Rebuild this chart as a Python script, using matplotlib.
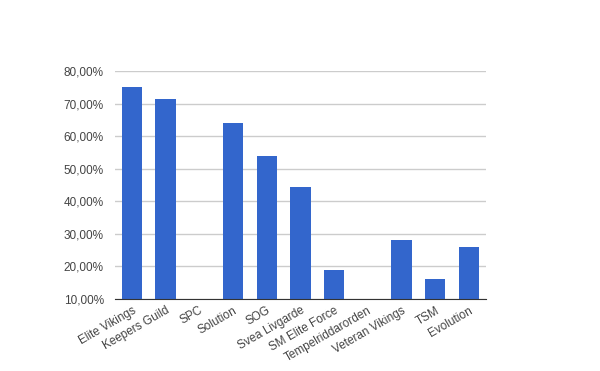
import numpy as np
import matplotlib.pyplot as plt
from matplotlib.ticker import FuncFormatter

plt.rcParams['font.family'] = ['Liberation Sans', 'DejaVu Sans']

lag = ['Elite Vikings', 'Keepers Guild', 'SPC', 'Solution', 'SOG', 'Svea Livgarde',
       'SM Elite Force', 'Tempelriddarorden', 'Veteran Vikings', 'TSM', 'Evolution']
andel = [75.0, 71.5, 0.0, 64.1, 54.0, 44.5, 19.0, 0.0, 28.0, 16.2, 26.0]

fig = plt.figure(figsize=(6, 3.71), dpi=100)
ax = fig.add_axes([0.1917, 0.194, 0.618, 0.6146])

x = np.arange(len(lag))
ax.bar(x, andel, width=0.6, color='#3366cc', zorder=3)

ax.set_ylim(10, 80)
ax.set_xlim(-0.5, len(lag) - 0.5)
ax.set_yticks(np.arange(10, 81, 10))
ax.yaxis.set_major_formatter(FuncFormatter(lambda v, p: ('%.2f%%' % v).replace('.', ',')))
ax.grid(axis='y', color='#cccccc', linewidth=1, zorder=0)

ax.set_xticks(x)
ax.set_xticklabels(lag, rotation=30, ha='right', rotation_mode='anchor')

for s in ['top', 'right', 'left']:
    ax.spines[s].set_visible(False)
ax.spines['bottom'].set_color('#333333')
ax.spines['bottom'].set_zorder(4)
ax.tick_params(axis='both', length=0, labelsize=8.5, colors='#444444')
ax.tick_params(axis='y', pad=8)
ax.tick_params(axis='x', pad=4)

fig.savefig('out.png')
